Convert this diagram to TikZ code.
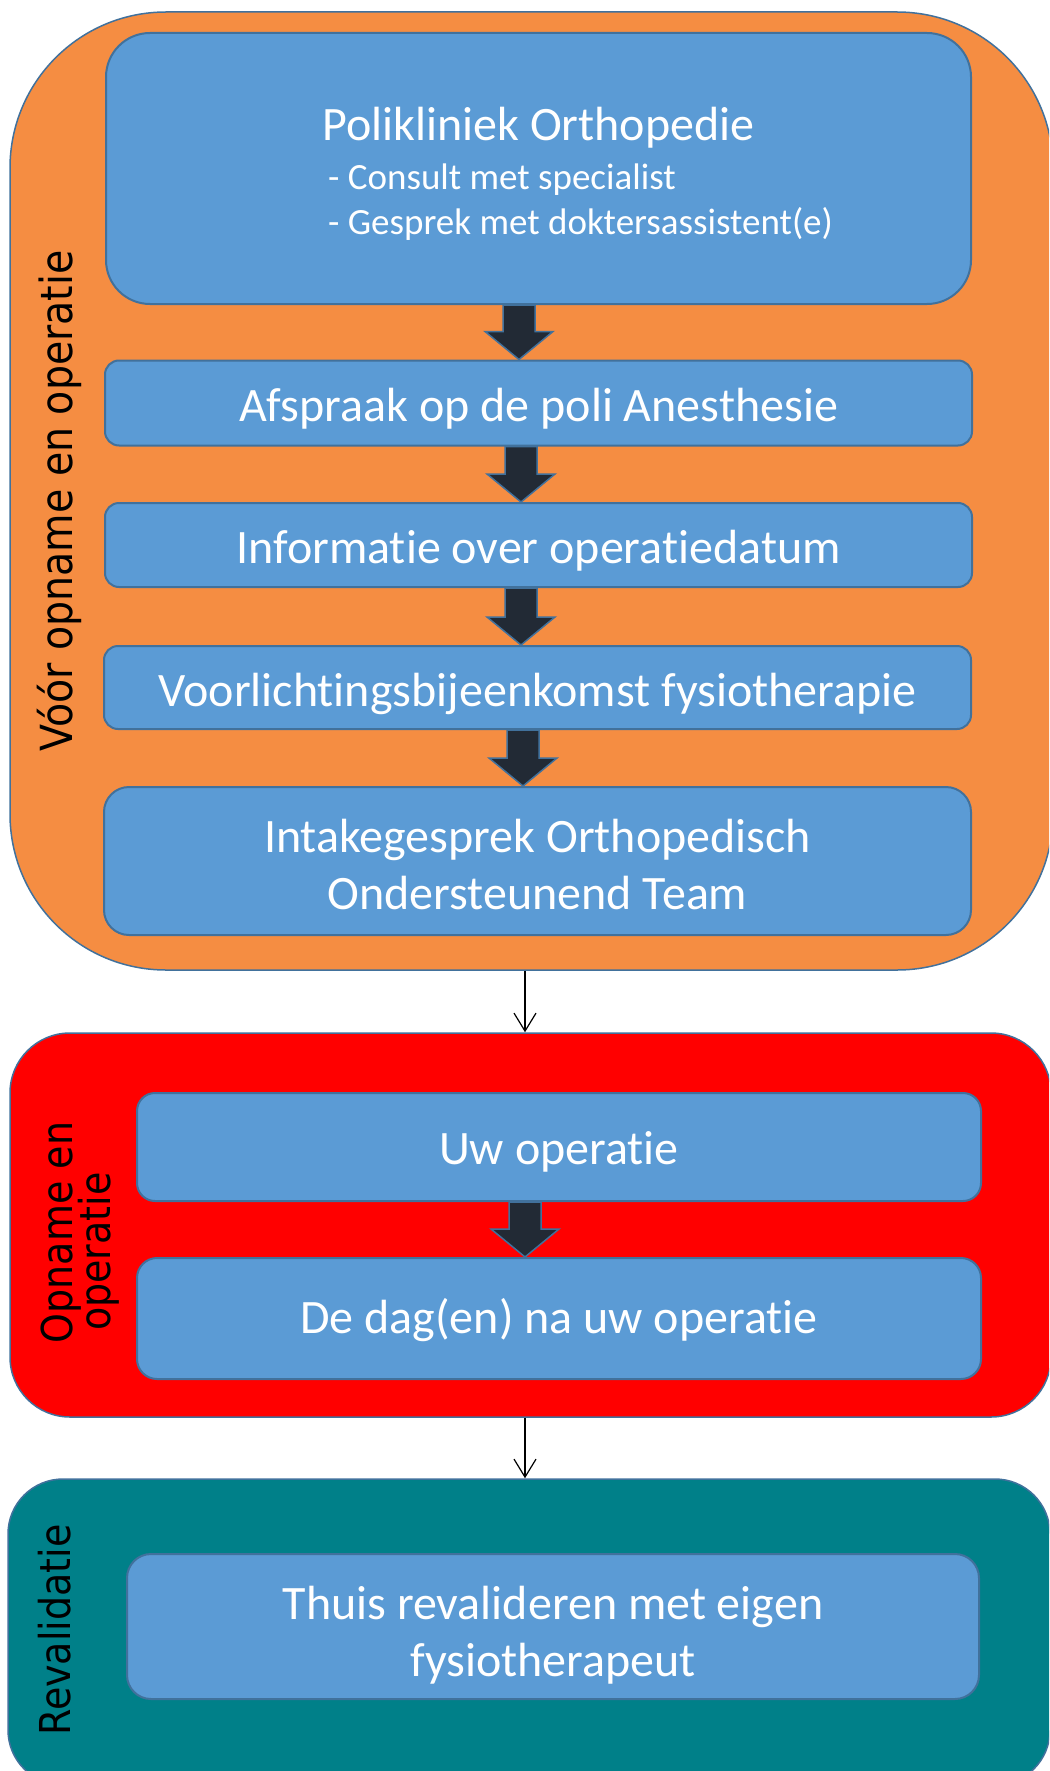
\documentclass[tikz,border=0pt]{standalone}
\usepackage{fontspec}
\setmainfont{Carlito}[Ligatures=CommonOff]
\newfontfamily\labfont{DejaVu Sans}
\usetikzlibrary{arrows.meta,calc}
\definecolor{orng}{HTML}{F58D42}
\definecolor{bxblue}{HTML}{5B9BD5}
\definecolor{edge}{HTML}{41719C}
\definecolor{arrc}{HTML}{222A35}
\definecolor{tealc}{HTML}{008089}
\newcommand{\blkarrow}[2]{%
  \draw[blk] ($#1+(-16,0)$) -- ($#2+(-16,-28)$) -- ($#2+(-34,-28)$) -- #2
    -- ($#2+(34,-28)$) -- ($#2+(16,-28)$) -- ($#1+(16,0)$) -- cycle;}
\newcommand{\lift}[1]{\rule{0pt}{#1}}
\begin{document}
\begin{tikzpicture}[x=1pt,y=-1pt,
  grp/.style={draw=edge, line width=1.5pt, inner sep=0pt},
  stepbox/.style={draw=edge, fill=bxblue, line width=2pt, text=white,
    font=\fontsize{48}{57}\selectfont, align=center, inner sep=0pt},
  boxtext/.style={text=white, inner sep=0pt},
  vlab/.style={rotate=90, yscale=1.12, text=black, inner sep=0pt,
    font={\labfont\fontsize{38}{34}\selectfont\lineskiplimit=-100pt}},
  blk/.style={fill=arrc, draw=edge, line width=1.5pt, line join=miter},
  thinarr/.style={draw=black, line width=1.2pt,
    -{Straight Barb[length=18pt, width=22pt, line width=1.2pt]}}]
\path[use as bounding box] (0,0) rectangle (1049,1771);
\clip (0,0) rectangle (1049,1771);

% containers
\node[grp, fill=orng, minimum width=1043pt, minimum height=958pt, rounded corners=156pt] (pre) at (531.5,491) {};
\node[grp, fill=red, minimum width=1041pt, minimum height=384pt, rounded corners=60pt] (ok) at (530.5,1225) {};
\node[grp, fill=tealc, minimum width=1042pt, minimum height=306pt, rounded corners=55pt] (rev) at (529,1632) {};

% steps
\node[stepbox, minimum width=865pt, minimum height=271pt, rounded corners=44pt] (poli) at (538.5,168.5) {};
\node[stepbox, minimum width=867pt, minimum height=85pt, rounded corners=14pt, text height=47.4pt, text depth=10pt] (afs) at (538.5,403) {Afspraak op de poli Anesthesie};
\node[stepbox, minimum width=867pt, minimum height=84pt, rounded corners=14pt, text height=46.6pt, text depth=10pt] (info) at (538.5,545) {Informatie over operatiedatum};
\node[stepbox, minimum width=867pt, minimum height=83pt, rounded corners=14pt, text height=48.4pt, text depth=10pt] (voor) at (537.5,687.5) {Voorlichtingsbijeenkomst fysiotherapie};
\node[stepbox, minimum width=867pt, minimum height=148pt, rounded corners=25pt] (intake) at (537.5,861) {\lift{41.3pt}Intakegesprek Orthopedisch\\Ondersteunend Team};
\node[stepbox, minimum width=844pt, minimum height=108pt, rounded corners=18pt, text height=44pt, text depth=10pt] (uw) at (559,1147) {Uw operatie};
\node[stepbox, minimum width=844pt, minimum height=121pt, rounded corners=20pt, text height=40pt, text depth=10pt] (dag) at (559,1318.5) {De dag(en) na uw operatie};
\node[stepbox, minimum width=852pt, minimum height=145pt, rounded corners=24pt] (thuis) at (553,1626.5) {\lift{50.3pt}Thuis revalideren met eigen\\fysiotherapeut};

% texts of the first box
\node[boxtext, anchor=base, font=\fontsize{48}{57}\selectfont] (politit) at (538.5,141) {Polikliniek Orthopedie};
\node[boxtext, anchor=base west, font=\fontsize{37}{45}\selectfont] (poli1) at (328,190) {- Consult met specialist};
\node[boxtext, anchor=base west, font=\fontsize{37}{45}\selectfont] (poli2) at (328,235) {- Gesprek met doktersassistent(e)};

% vertical labels
\node[vlab, anchor=base, font={\labfont\fontsize{39.5}{34}\selectfont}] (labpre) at (72,501) {Vóór opname en operatie};
\node[vlab, align=center] (labok) at (79.8,1251.5) {\hspace*{38pt}Opname en\\operatie};
\node[vlab, anchor=base] (labrev) at (70,1630) {Revalidatie};

% block arrows
\coordinate (k1) at (519,0);
\coordinate (k2) at (521,0);
\coordinate (k3) at (521,0);
\coordinate (k4) at (523,0);
\coordinate (k5) at (525,0);
\coordinate (km) at (525,0);
\coordinate (a1s) at (poli.south -| k1); \coordinate (a1e) at (afs.north -| k1);
\coordinate (a2s) at (afs.south -| k2); \coordinate (a2e) at (info.north -| k2);
\coordinate (a3s) at (info.south -| k3); \coordinate (a3e) at (voor.north -| k3);
\coordinate (a4s) at (voor.south -| k4); \coordinate (a4e) at (intake.north -| k4);
\coordinate (a5s) at (uw.south -| k5); \coordinate (a5e) at (dag.north -| k5);
\blkarrow{(a1s)}{(a1e)}
\blkarrow{(a2s)}{(a2e)}
\blkarrow{(a3s)}{(a3e)}
\blkarrow{(a4s)}{(a4e)}
\blkarrow{(a5s)}{(a5e)}

% thin connectors
\draw[thinarr] (pre.south -| km) -- (ok.north -| km);
\draw[thinarr] (ok.south -| km) -- (rev.north -| km);
\end{tikzpicture}
\end{document}
